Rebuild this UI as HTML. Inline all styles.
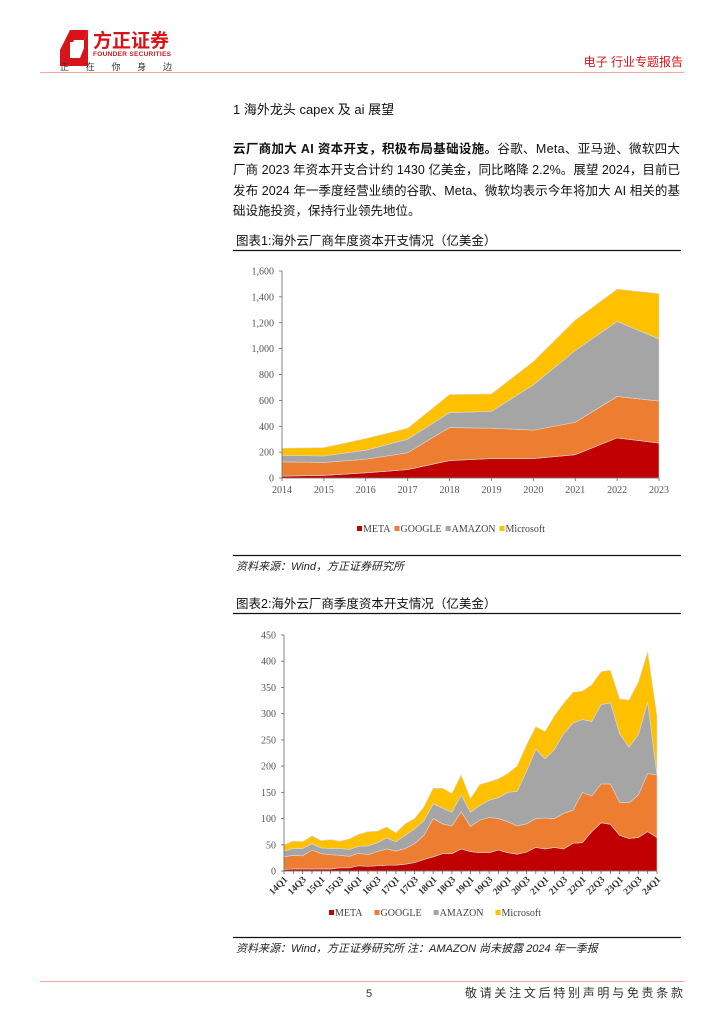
<!DOCTYPE html>
<html><head><meta charset="utf-8"><style>
body{margin:0;background:#fff;}
svg{display:block;font-family:"Liberation Sans","Noto Sans CJK SC",sans-serif;}
.serif{font-family:"Liberation Serif","Noto Serif CJK SC",serif;}
</style></head><body>
<svg id="page" width="724" height="1024" viewBox="0 0 724 1024">
<g>
  <g>
    <path d="M70 30 L88 30 L84 40 L74 40 L70 50 L60 50 Z" fill="#d8141b"/>
    <path d="M60 50 L70 50 L70 58 L80 58 L84 48 L84 40 L88 30 L88 66 L60 66 Z" fill="#d8141b"/>
    <rect x="70" y="42" width="10" height="14" fill="#fff"/>
    <text x="93" y="47" font-size="19" font-weight="bold" fill="#d8141b">方正证券</text>
    <text x="93" y="56" font-size="6.5" font-weight="bold" fill="#d8141b" textLength="78">FOUNDER SECURITIES</text>
    <text x="60" y="70" font-size="9" fill="#333" textLength="112">正  在  你  身  边</text>
  </g>
  <text x="683" y="66" font-size="12" fill="#d8141b" text-anchor="end">电子 行业专题报告</text>
  <line x1="40" y1="72.5" x2="684" y2="72.5" stroke="#f4a6a6" stroke-width="1"/>
</g>
<text x="233" y="114" font-size="13" fill="#111">1 海外龙头 capex 及 ai 展望</text>
<g font-size="12.5" fill="#111">
  <text x="233" y="153" textLength="447"><tspan font-weight="bold">云厂商加大 AI 资本开支，积极布局基础设施。</tspan>谷歌、Meta、亚马逊、微软四大</text>
  <text x="233" y="174" textLength="447">厂商 2023 年资本开支合计约 1430 亿美金，同比略降 2.2%。展望 2024，目前已</text>
  <text x="233" y="195" textLength="447">发布 2024 年一季度经营业绩的谷歌、Meta、微软均表示今年将加大 AI 相关的基</text>
  <text x="233" y="215">础设施投资，保持行业领先地位。</text>
</g>
<text x="236" y="245" font-size="12.5" fill="#111">图表1:海外云厂商年度资本开支情况（亿美金）</text>
<line x1="233" y1="250.5" x2="681" y2="250.5" stroke="#111" stroke-width="1.2"/>
<g id="chart1"></g>
<line x1="233" y1="555.5" x2="681" y2="555.5" stroke="#111" stroke-width="1.2"/>
<text x="236" y="570" font-size="11" font-style="italic" fill="#222">资料来源：Wind，方正证券研究所</text>
<text x="236" y="608" font-size="12.5" fill="#111">图表2:海外云厂商季度资本开支情况（亿美金）</text>
<line x1="233" y1="613.5" x2="681" y2="613.5" stroke="#111" stroke-width="1.2"/>
<g id="chart2"></g>
<line x1="233" y1="937.5" x2="681" y2="937.5" stroke="#111" stroke-width="1.2"/>
<text x="236" y="952" font-size="11" font-style="italic" fill="#222">资料来源：Wind，方正证券研究所 注：AMAZON 尚未披露 2024 年一季报</text>
<line x1="40" y1="981.5" x2="684" y2="981.5" stroke="#f4a6a6" stroke-width="1"/>
<text x="366" y="997" font-size="11" fill="#333">5</text>
<text x="683" y="997" font-size="12" fill="#333" text-anchor="end" textLength="218">敬请关注文后特别声明与免责条款</text>
</svg>
<script>
const NS="http://www.w3.org/2000/svg";
const seriesNames=["META","GOOGLE","AMAZON","Microsoft"];
const seriesColors=["#c00000","#ed7d31","#a5a5a5","#ffc000"];
// chart 1 data
const years=["2014","2015","2016","2017","2018","2019","2020","2021","2022","2023"];
const metaA=[15,20,40,65,135,150,150,180,310,270];
const googleA=[110,100,105,130,255,235,220,250,320,325];
const amazonA=[50,50,70,105,115,130,350,555,580,480];
const msA=[55,65,90,85,140,135,180,235,250,350];
const ticksA=[0,200,400,600,800,1000,1200,1400,1600];
const tickLabelsA=["0","200","400","600","800","1,000","1,200","1,400","1,600"];
// chart 2 data
const quarters=["14Q1","14Q2","14Q3","14Q4","15Q1","15Q2","15Q3","15Q4","16Q1","16Q2","16Q3","16Q4","17Q1","17Q2","17Q3","17Q4","18Q1","18Q2","18Q3","18Q4","19Q1","19Q2","19Q3","19Q4","20Q1","20Q2","20Q3","20Q4","21Q1","21Q2","21Q3","21Q4","22Q1","22Q2","22Q3","22Q4","23Q1","23Q2","23Q3","23Q4","24Q1"];
const metaQ=[3,4,4,4,4,4,6,6,10,9,10,11,11,13,16,22,27,33,33,42,37,35,35,40,35,32,36,45,42,45,42,53,54,75,92,89,68,62,64,75,64];
const googleQ=[24,26,25,36,29,27,24,22,24,22,27,31,27,30,36,46,73,57,53,71,48,62,67,60,59,54,54,55,59,55,68,63,96,68,74,77,63,68,81,111,119];
const amazonQ=[11,13,14,12,11,12,13,13,13,17,17,21,18,25,28,28,28,30,26,32,27,28,33,40,56,66,100,132,113,132,152,166,139,142,151,155,131,106,115,136,0];
const msQ=[12,14,13,15,14,17,14,20,23,27,22,21,17,22,20,26,30,38,36,38,26,40,35,36,36,48,50,43,52,64,58,59,54,70,63,62,66,90,100,96,112];
const ticksQ=[0,50,100,150,200,250,300,350,400,450];

function el(tag,attrs,parent){const e=document.createElementNS(NS,tag);for(const k in attrs)e.setAttribute(k,attrs[k]);parent.appendChild(e);return e;}

function drawChart(g,cats,series,ymax,ticks,tickLabels,box,catLabelFn,legendY,legendX){
  const {x0,x1,y0,y1}=box;
  const xs=i=>x0+(x1-x0)*i/(cats.length-1);
  const ys=v=>y0-(y0-y1)*v/ymax;
  let base=cats.map(()=>0);
  series.forEach((vals,s)=>{
    const top=vals.map((v,i)=>base[i]+v);
    let d="M"+cats.map((c,i)=>xs(i)+","+ys(top[i])).join(" L");
    for(let i=cats.length-1;i>=0;i--)d+=" L"+xs(i)+","+ys(base[i]);
    d+=" Z";
    const p=el("path",{d:d,fill:seriesColors[s],stroke:"#d9d9d9","stroke-width":"0.6"},g);
    
    
    base=top;
  });
  const ax=el("line",{x1:x0,y1:y1,x2:x0,y2:y0,stroke:"#666","stroke-width":"0.8"},g);
  
  
  const bx=el("line",{x1:x0,y1:y0,x2:x1,y2:y0,stroke:"#666","stroke-width":"0.8"},g);
  
  
  ticks.forEach((t,i)=>{
    el("line",{x1:x0-3,y1:ys(t),x2:x0,y2:ys(t),stroke:"#666","stroke-width":"0.8"},g);
    const tx=el("text",{x:x0-8,y:ys(t)+3.5,"font-size":"10","text-anchor":"end",fill:"#555",class:"serif"},g);
    tx.textContent=tickLabels[i];
    
    
  });
  cats.forEach((c,i)=>{
    el("line",{x1:xs(i),y1:y0,x2:xs(i),y2:y0+3,stroke:"#666","stroke-width":"0.8"},g);
    catLabelFn(c,i,xs(i),y0);
  });
  let lx=legendX;
  seriesNames.forEach((n,s)=>{
    const r=el("rect",{x:lx,y:legendY-6,width:5,height:5,fill:seriesColors[s]},g);
    
    
    const t=el("text",{x:lx+6,y:legendY,"font-size":"10",fill:"#444",class:"serif"},g);
    t.textContent=n;
    
    
    lx+=6+t.getComputedTextLength()+(legendY>900?12:4);
  });
}

const g1=document.getElementById("chart1");
drawChart(g1,years,[metaA,googleA,amazonA,msA],1600,ticksA,tickLabelsA,{x0:282,x1:659,y0:478,y1:271},
 (c,i,x,y)=>{const t=el("text",{x:x,y:y+15,"font-size":"10","text-anchor":"middle",fill:"#555",class:"serif"},g1);t.textContent=c;
 
 },532,357);

const g2=document.getElementById("chart2");
drawChart(g2,quarters,[metaQ,googleQ,amazonQ,msQ],450,ticksQ,ticksQ.map(String),{x0:284,x1:657,y0:871,y1:635},
 (c,i,x,y)=>{if(i%2)return;const t=el("text",{x:x+4,y:y+9,"font-size":"9.5","font-weight":"bold","text-anchor":"end",fill:"#333",class:"serif",transform:"rotate(-45 "+(x+4)+" "+(y+9)+")"},g2);t.textContent=c;
 
 },916,329);
</script>
</body></html>
